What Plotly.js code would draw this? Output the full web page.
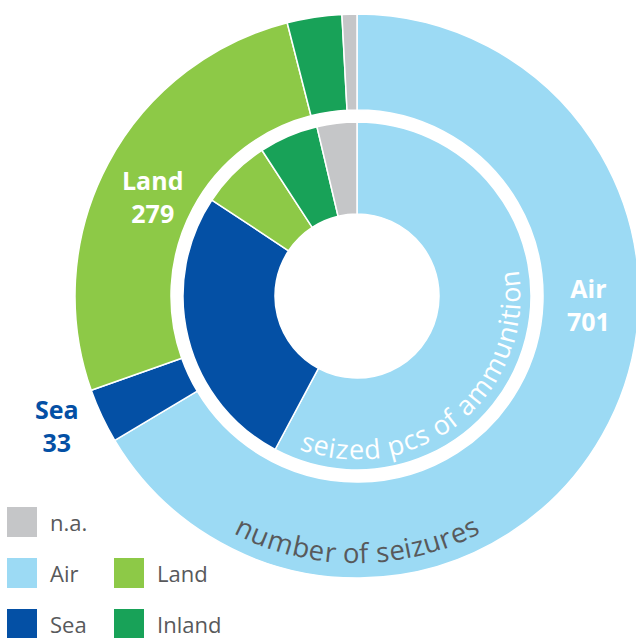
<!DOCTYPE html>
<html>
<head>
<meta charset="utf-8">
<script src="https://cdn.plot.ly/plotly-3.0.1.min.js"></script>
<style>
  html, body { margin: 0; padding: 0; overflow: hidden; background: #fff; }
  #chart { width: 660px; height: 638px; }
</style>
</head>
<body>
<div id="chart"></div>
<script>
// ---- data ----
var categories = ["Air", "Sea", "Land", "Inland", "n.a."];
var seizures = [701, 33, 279, 33, 9];             // number of seizures (outer ring)
var ammunitionShare = [57.8, 26.5, 6.5, 5.5, 3.7]; // seized pcs of ammunition, % (inner ring, estimated)
var colors = ["#9CDAF4", "#0450A5", "#8DC947", "#18A258", "#C5C6C8"];
var outerTitle = "number of seizures";
var innerTitle = "seized pcs of ammunition";
var labelled = ["Air", "Land", "Sea"];
var legendOrder = ["n.a.", "Air", "Land", "Sea", "Inland"];

// ---- layout geometry (pixels) ----
var W = 660, H = 638;
var cx = 357, cy = 296;
var rOuter = 282, rOuterHole = 186, rInner = 174, rInnerHole = 82;
function px(x) { return x / W; }
function py(y) { return 1 - y / H; }

var traces = [
  {
    type: "pie", values: seizures, labels: categories, sort: false,
    direction: "clockwise", rotation: 0,
    hole: rOuterHole / rOuter,
    marker: { colors: colors, line: { color: "#ffffff", width: 1.5 } },
    textinfo: "none", textposition: "none", hoverinfo: "skip", showlegend: false,
    domain: { x: [px(cx - rOuter), px(cx + rOuter)], y: [py(cy + rOuter), py(cy - rOuter)] }
  },
  {
    type: "pie", values: ammunitionShare, labels: categories, sort: false,
    direction: "clockwise", rotation: 0,
    hole: rInnerHole / rInner,
    marker: { colors: colors, line: { color: "#ffffff", width: 1.5 } },
    textinfo: "none", textposition: "none", hoverinfo: "skip", showlegend: false,
    domain: { x: [px(cx - rInner), px(cx + rInner)], y: [py(cy + rInner), py(cy - rInner)] }
  }
];

var annotations = [];
var shapes = [];

// value labels
var labelPos = { "Air": [588, 304, "#ffffff"], "Land": [152, 196, "#ffffff"], "Sea": [57, 425, "#0450A5"] };
labelled.forEach(function (name) {
  var i = categories.indexOf(name);
  var p = labelPos[name];
  annotations.push({
    xref: "paper", yref: "paper", x: px(p[0]), y: py(p[1]),
    xanchor: "center", yanchor: "middle", showarrow: false, align: "center",
    text: "<b>" + categories[i] + "<br>" + seizures[i] + "</b>",
    font: { family: "Open Sans", size: 25, color: p[2] }
  });
});

// curved text along a circle, letters' tops toward the centre
var ctx = document.createElement("canvas").getContext("2d");
function curvedText(str, r, thetaCenter, size, color) {
  ctx.font = size + "px 'Open Sans'";
  var widths = str.split("").map(function (ch) { return ctx.measureText(ch).width; });
  var total = widths.reduce(function (a, b) { return a + b; }, 0);
  var start = thetaCenter * Math.PI / 180 + (total / 2) / r;
  var cum = 0;
  str.split("").forEach(function (ch, k) {
    var a = start - (cum + widths[k] / 2) / r;
    cum += widths[k];
    if (ch === " ") return;
    var x = cx + r * Math.sin(a), y = cy - r * Math.cos(a);
    annotations.push({
      xref: "paper", yref: "paper", x: px(x), y: py(y),
      xanchor: "center", yanchor: "middle", showarrow: false,
      text: ch, textangle: a * 180 / Math.PI - 180, borderpad: 0,
      font: { family: "Open Sans", size: size, color: color }
    });
  });
}
curvedText(outerTitle, 257, 180, 27.5, "#58595B");
curvedText(innerTitle, 153, 140.6, 27, "#ffffff");

// legend drawn as squares + labels
var legendSlots = [[7, 507], [7, 558], [114, 558], [7, 609], [114, 609]];
legendOrder.forEach(function (name, k) {
  var i = categories.indexOf(name);
  var s = legendSlots[k];
  shapes.push({
    type: "rect", xref: "paper", yref: "paper",
    x0: px(s[0]), x1: px(s[0] + 30), y0: py(s[1] + 30), y1: py(s[1]),
    fillcolor: colors[i], line: { width: 0 }
  });
  annotations.push({
    xref: "paper", yref: "paper", x: px(s[0] + 41), y: py(s[1] + 15),
    xanchor: "left", yanchor: "middle", showarrow: false,
    text: categories[i], font: { family: "Open Sans", size: 22, color: "#58595B" }
  });
});

var layout = {
  width: W, height: H,
  margin: { l: 0, r: 0, t: 0, b: 0, pad: 0 },
  paper_bgcolor: "#ffffff", plot_bgcolor: "#ffffff",
  showlegend: false,
  annotations: annotations, shapes: shapes
};
Plotly.newPlot("chart", traces, layout, { displayModeBar: false, staticPlot: true });
</script>
</body>
</html>
